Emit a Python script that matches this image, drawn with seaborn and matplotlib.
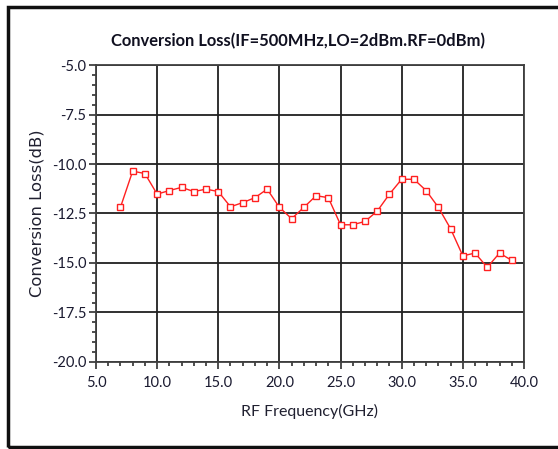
import numpy as np
import pandas as pd
import matplotlib.pyplot as plt
import matplotlib.patches as patches
from matplotlib.ticker import MultipleLocator
import seaborn as sns

# --- data ---
freq_ghz = [7, 8, 9, 10, 11, 12, 13, 14, 15, 16, 17, 18, 19, 20, 21, 22, 23,
            24, 25, 26, 27, 28, 29, 30, 31, 32, 33, 34, 35, 36, 37, 38, 39]
conv_loss_db = [-12.19, -10.36, -10.48, -11.52, -11.34, -11.18, -11.39, -11.27,
                -11.39, -12.16, -11.95, -11.70, -11.27, -12.19, -12.76, -12.19,
                -11.60, -11.70, -13.07, -13.07, -12.90, -12.38, -11.52, -10.77,
                -10.77, -11.34, -12.19, -13.27, -14.64, -14.50, -15.22, -14.50,
                -14.87]

df = pd.DataFrame({"freq": freq_ghz, "loss": conv_loss_db})

sns.set_style("white")
plt.rcParams['font.family'] = ['Lato', 'DejaVu Sans']

fig = plt.figure(figsize=(5.58, 4.49), dpi=100)
ax = fig.add_axes([0.172, 0.194, 0.767, 0.661])

sns.lineplot(data=df, x="freq", y="loss", ax=ax, color="#ff2020", linewidth=1.0,
             marker="s", markersize=5, markerfacecolor="white",
             markeredgecolor="#ff2020", markeredgewidth=1.0)

ax.set_xlim(5, 40)
ax.set_ylim(-20, -5)
ax.xaxis.set_major_locator(MultipleLocator(5))
ax.xaxis.set_minor_locator(MultipleLocator(1))
ax.yaxis.set_major_locator(MultipleLocator(2.5))
ax.yaxis.set_minor_locator(MultipleLocator(0.5))
ax.set_xticklabels([f"{v:.1f}" for v in ax.get_xticks()])
ax.set_yticklabels([f"{v:.1f}" for v in ax.get_yticks()])

ax.grid(True, which="major", color="#202020", linewidth=1.3)
for s in ax.spines.values():
    s.set_color("#404040")
    s.set_linewidth(1.3)

ax.tick_params(axis="both", which="major", direction="out", length=5, width=1.2,
               color="#303030", labelsize=10.5, labelcolor="#1a1a30")
ax.tick_params(axis="x", which="major", pad=5)
ax.tick_params(axis="y", which="major", pad=2)
ax.tick_params(axis="both", which="minor", direction="out", length=3, width=1.2,
               color="#303030")
ax.tick_params(axis="both", which="both", bottom=True, left=True)

fig.text(0.534, 1 - 41 / 449, "Conversion Loss(IF=500MHz,LO=2dBm.RF=0dBm)",
         fontsize=11.9, fontweight="bold", color="#101020", ha="center", va="center")
ax.set_xlabel("RF Frequency(GHz)", fontsize=11.5, color="#202030")
ax.xaxis.set_label_coords(0.5, -(412 - 362) / 297, transform=ax.transAxes)
ax.xaxis.label.set_va("center")
ax.set_ylabel("Conversion Loss(dB)", fontsize=11.8, color="#202030",
              family="DejaVu Sans")
ax.yaxis.set_label_coords(-(96 - 37) / 428, 0.5, transform=ax.transAxes)
ax.yaxis.label.set_va("center")

# outer dark frame of the screenshot
frame = patches.Rectangle((8 / 558, 2 / 449), 1.1, 440 / 449, transform=fig.transFigure,
                          fill=False, edgecolor="#101010", linewidth=2.5, clip_on=False)
fig.patches.append(frame)

plt.savefig("out.png", dpi=100)
